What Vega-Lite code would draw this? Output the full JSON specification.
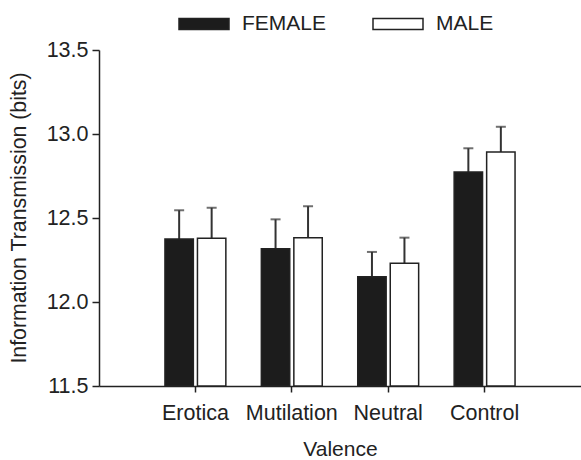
{
  "$schema": "https://vega.github.io/schema/vega-lite/v6.json",
  "width": 482,
  "height": 336,
  "autosize": {"type": "none"},
  "padding": {"left": 99, "top": 50, "right": 0, "bottom": 74},
  "background": "white",
  "config": {
    "view": {"stroke": null},
    "font": "Liberation Sans",
    "axis": {
      "labelFont": "Liberation Sans",
      "titleFont": "Liberation Sans",
      "labelFontSize": 21.5,
      "titleFontSize": 21,
      "titleFontWeight": "normal",
      "labelColor": "#222",
      "titleColor": "#222",
      "domainColor": "#222",
      "tickColor": "#222",
      "domainWidth": 1.5,
      "tickWidth": 1.5,
      "grid": false
    },
    "legend": {
      "labelFont": "Liberation Sans",
      "labelFontSize": 21,
      "labelColor": "#222"
    }
  },
  "data": {
    "values": [
      {"valence": "Erotica", "sex": "FEMALE", "mean": 12.375, "upper": 12.546},
      {"valence": "Erotica", "sex": "MALE", "mean": 12.379, "upper": 12.561},
      {"valence": "Mutilation", "sex": "FEMALE", "mean": 12.317, "upper": 12.492},
      {"valence": "Mutilation", "sex": "MALE", "mean": 12.383, "upper": 12.570},
      {"valence": "Neutral", "sex": "FEMALE", "mean": 12.151, "upper": 12.298},
      {"valence": "Neutral", "sex": "MALE", "mean": 12.230, "upper": 12.383},
      {"valence": "Control", "sex": "FEMALE", "mean": 12.774, "upper": 12.915},
      {"valence": "Control", "sex": "MALE", "mean": 12.893, "upper": 13.043}
    ]
  },
  "encoding": {
    "x": {
      "field": "valence",
      "type": "nominal",
      "sort": ["Erotica", "Mutilation", "Neutral", "Control"],
      "scale": {"paddingInner": 0, "paddingOuter": 0.5},
      "axis": {"title": "Valence", "labelAngle": 0, "tickSize": 6, "labelPadding": 10, "titlePadding": 15}
    },
    "xOffset": {
      "field": "sex",
      "type": "nominal",
      "scale": {"paddingInner": 0.126, "paddingOuter": 0.546}
    }
  },
  "layer": [
    {
      "mark": {"type": "rule", "color": "#333", "strokeWidth": 2},
      "encoding": {
        "y": {"field": "mean", "type": "quantitative"},
        "y2": {"field": "upper"}
      }
    },
    {
      "mark": {"type": "tick", "color": "#333", "thickness": 2, "size": 10},
      "encoding": {
        "y": {"field": "upper", "type": "quantitative"}
      }
    },
    {
      "mark": {"type": "bar", "stroke": "#222", "strokeWidth": 1.5},
      "encoding": {
        "y": {
          "field": "mean",
          "type": "quantitative",
          "scale": {"domain": [11.5, 13.5], "zero": false, "nice": false},
          "axis": {
            "title": "Information Transmission (bits)",
            "titleFontSize": 21.3,
            "titleY": 167.5,
            "values": [11.5, 12.0, 12.5, 13.0, 13.5],
            "format": ".1f",
            "tickSize": 7,
            "labelPadding": 4,
            "titlePadding": 17
          }
        },
        "y2": {"datum": 11.5},
        "fill": {
          "field": "sex",
          "type": "nominal",
          "scale": {"domain": ["FEMALE", "MALE"], "range": ["#1c1c1c", "#ffffff"]},
          "legend": {
            "title": null,
            "orient": "none",
            "direction": "horizontal",
            "legendX": 79,
            "legendY": -52,
            "symbolType": "M-1,-0.22H1V0.22H-1Z",
            "symbolSize": 2500,
            "symbolStrokeColor": "#222",
            "symbolStrokeWidth": 1.5,
            "symbolOpacity": 1,
            "labelOffset": 12,
            "columnPadding": 43
          }
        }
      }
    }
  ]
}
